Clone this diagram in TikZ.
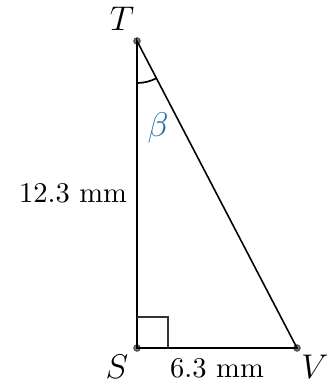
\documentclass[tikz,border=0pt]{standalone}
\usepackage{xcolor}
\usetikzlibrary{positioning, calc}
\definecolor{betablue}{RGB}{28,110,160}

\begin{document}
\begin{tikzpicture}[
    x=0.35pt, y=-0.35pt,
    side/.style ={line width=0.55pt, black},
    pt/.style   ={circle, draw=black!70, fill=black!50, inner sep=0pt,
                  minimum size=2.2pt},
    lbl/.style  ={font=\normalsize, inner sep=1pt},
    vlbl/.style ={font=\large, inner sep=1pt},
]
\useasboundingbox (0,0) rectangle (328,385);
\node[pt] (T) at (137,41) {};
\node[pt] (S) at (137,348) {};
\node[pt] (V) at (297,348) {};
\draw[side] (T.center) -- (S.center) -- (V.center) -- cycle;
% right angle at S
\draw[line width=0.4pt, black!80] ($(S.center)+(0,-31)$) -| ($(S.center)+(31,0)$);
% angle at T
\draw[line width=0.6pt] ($(T.center)+(0,42)$) arc[start angle=-90, end angle={-90+atan(160/307)}, radius=42*0.35pt];
\node[vlbl] (tT) at (122,19) {$T$};
\node[vlbl] (tS) at (117,367) {$S$};
\node[vlbl] (tV) at (315,367) {$V$};
\node[vlbl, text=betablue] (tb) at (158,128) {$\beta$};
\node[lbl] (ts) at (73,193) {12.3 mm};
\node[lbl] (tb2) at (217,368) {6.3 mm};
\end{tikzpicture}
\end{document}
